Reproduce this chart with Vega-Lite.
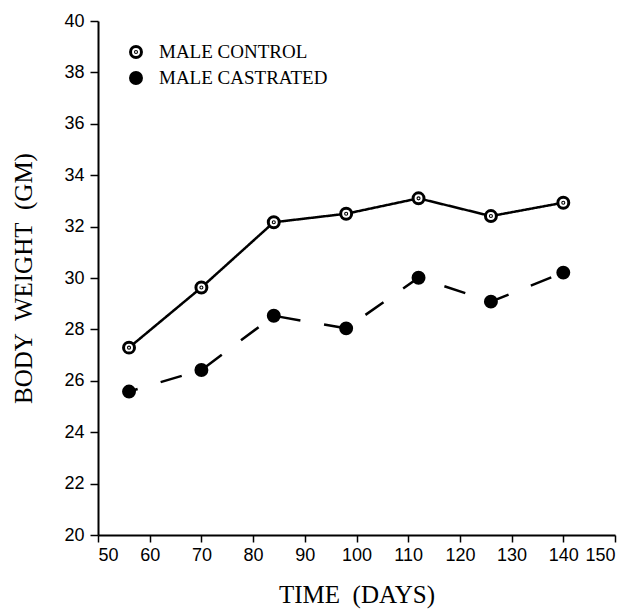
{
  "$schema": "https://vega.github.io/schema/vega-lite/v6.json",
  "width": 517,
  "height": 514,
  "autosize": {"type": "none"},
  "padding": {"left": 98, "top": 21, "right": 21, "bottom": 76},
  "background": "white",
  "config": {
    "view": {"stroke": null},
    "axis": {
      "grid": false,
      "domainColor": "black",
      "domainWidth": 2,
      "tickColor": "black",
      "tickWidth": 1.5,
      "labelFont": "Liberation Sans",
      "labelFontSize": 18,
      "labelColor": "black",
      "titleFont": "Liberation Serif",
      "titleFontSize": 25,
      "titleFontWeight": "normal",
      "titleColor": "black"
    }
  },
  "datasets": {
    "weights": [
      {"day": 56, "weight": 27.29, "group": "MALE CONTROL"},
      {"day": 70, "weight": 29.63, "group": "MALE CONTROL"},
      {"day": 84, "weight": 32.17, "group": "MALE CONTROL"},
      {"day": 98, "weight": 32.5, "group": "MALE CONTROL"},
      {"day": 112, "weight": 33.1, "group": "MALE CONTROL"},
      {"day": 126, "weight": 32.41, "group": "MALE CONTROL"},
      {"day": 140, "weight": 32.93, "group": "MALE CONTROL"},
      {"day": 56, "weight": 25.58, "group": "MALE CASTRATED"},
      {"day": 70, "weight": 26.42, "group": "MALE CASTRATED"},
      {"day": 84, "weight": 28.53, "group": "MALE CASTRATED"},
      {"day": 98, "weight": 28.04, "group": "MALE CASTRATED"},
      {"day": 112, "weight": 30.01, "group": "MALE CASTRATED"},
      {"day": 126, "weight": 29.08, "group": "MALE CASTRATED"},
      {"day": 140, "weight": 30.21, "group": "MALE CASTRATED"}
    ],
    "legendEntries": [
      {"group": "MALE CONTROL"},
      {"group": "MALE CASTRATED"}
    ]
  },
  "resolve": {"scale": {"x": "independent", "y": "independent"}, "axis": {"x": "independent", "y": "independent"}},
  "layer": [
    {
      "data": {"name": "weights"},
      "mark": {"type": "line", "color": "black", "strokeWidth": 2.5, "strokeDashOffset": 13},
      "encoding": {
        "x": {
          "field": "day",
          "type": "quantitative",
          "scale": {"domain": [50, 150], "nice": false, "zero": false},
          "axis": {"orient": "bottom", "values": [50, 60, 70, 80, 90, 100, 110, 120, 130, 140, 150], "ticks": true, "tickSize": 7, "labelPadding": 4, "title": "TIME\u00a0 (DAYS)", "titlePadding": 18}
        },
        "y": {
          "field": "weight",
          "type": "quantitative",
          "scale": {"domain": [20, 40], "nice": false, "zero": false},
          "axis": {"orient": "left", "values": [20, 22, 24, 26, 28, 30, 32, 34, 36, 38, 40], "ticks": true, "tickSize": 8, "labelPadding": 6, "title": "BODY\u00a0 WEIGHT\u00a0 (GM)", "titlePadding": 27}
        },
        "detail": {"field": "group"},
        "strokeDash": {
          "field": "group",
          "type": "nominal",
          "scale": {"domain": ["MALE CONTROL", "MALE CASTRATED"], "range": [[1, 0], [22, 24]]},
          "legend": null
        }
      }
    },
    {
      "data": {"name": "weights"},
      "mark": {"type": "point", "filled": true, "stroke": "black", "strokeWidth": 3, "opacity": 1, "size": 120},
      "encoding": {
        "x": {
          "field": "day",
          "type": "quantitative",
          "scale": {"domain": [50, 150], "nice": false, "zero": false},
          "axis": null
        },
        "y": {
          "field": "weight",
          "type": "quantitative",
          "scale": {"domain": [20, 40], "nice": false, "zero": false},
          "axis": null
        },
        "shape": {
          "field": "group",
          "type": "nominal",
          "scale": {"domain": ["MALE CONTROL", "MALE CASTRATED"], "range": ["M-1,0A1,1,0,1,0,1,0A1,1,0,1,0,-1,0ZM-0.1,0A0.1,0.1,0,1,0,0.1,0A0.1,0.1,0,1,0,-0.1,0Z", "circle"]},
          "legend": null
        },
        "fill": {
          "field": "group",
          "type": "nominal",
          "scale": {"domain": ["MALE CONTROL", "MALE CASTRATED"], "range": ["white", "black"]},
          "legend": null
        }
      }
    },
    {
      "data": {"name": "legendEntries"},
      "mark": {"type": "point", "filled": true, "stroke": "black", "strokeWidth": 3, "opacity": 1, "size": 120},
      "encoding": {
        "x": {
          "datum": 57.35,
          "type": "quantitative",
          "scale": {"domain": [50, 150], "nice": false, "zero": false},
          "axis": null
        },
        "y": {
          "field": "group",
          "type": "nominal",
          "scale": {"type": "point", "domain": ["MALE CONTROL", "MALE CASTRATED"], "range": [31, 57], "padding": 0},
          "axis": null
        },
        "shape": {"field": "group", "type": "nominal", "legend": null},
        "fill": {"field": "group", "type": "nominal", "legend": null}
      }
    },
    {
      "data": {"name": "legendEntries"},
      "mark": {"type": "text", "align": "left", "baseline": "middle", "font": "Liberation Serif", "fontSize": 19, "color": "black"},
      "encoding": {
        "x": {
          "datum": 61.8,
          "type": "quantitative",
          "scale": {"domain": [50, 150], "nice": false, "zero": false},
          "axis": null
        },
        "y": {
          "field": "group",
          "type": "nominal",
          "scale": {"type": "point", "domain": ["MALE CONTROL", "MALE CASTRATED"], "range": [31, 57], "padding": 0},
          "axis": null
        },
        "text": {"field": "group", "type": "nominal"}
      }
    }
  ]
}
